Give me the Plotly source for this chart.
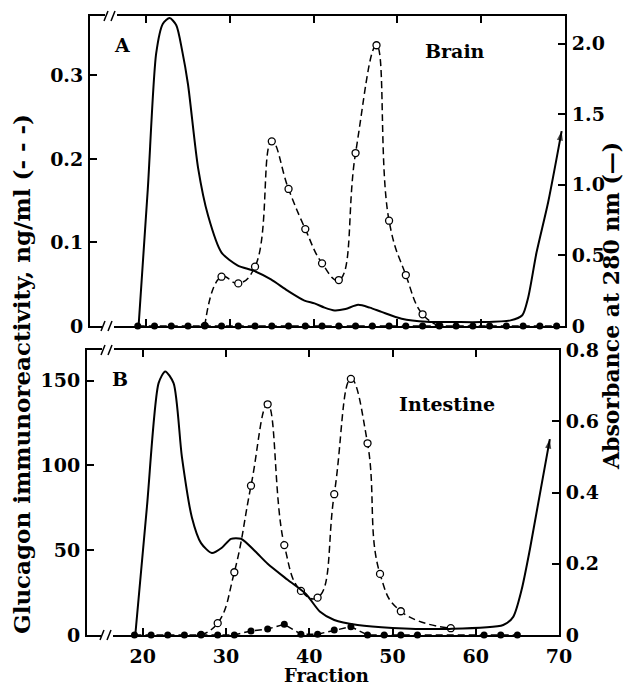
import plotly.graph_objects as go

# page body has an 8px margin, so the figure is sized to fill the 634x685 window
OFF = 8
W, H = 634 - OFF, 685 - OFF

# ---------------- Panel A: Brain ----------------
brain_dot_frac = [19, 21, 23, 25, 27, 29, 31, 33, 35, 37, 39, 41, 43, 45, 47, 49,
                  51, 53, 55, 57, 59, 61, 63, 65, 67, 69]
brain_dot_val = [0, 0, 0, 0, 0, 0, 0, 0, 0, 0, 0, 0, 0, 0, 0, 0,
                 0, 0, 0, 0, 0, 0, 0, 0, 0, 0]

brain_ir_frac = [27, 29, 31, 33, 35, 37, 39, 41, 43, 45, 47.5, 49, 51, 53, 55]
brain_ir_val = [0, 0.059, 0.051, 0.071, 0.221, 0.164, 0.116, 0.075, 0.055,
                0.207, 0.336, 0.126, 0.061, 0.014, 0]

brain_abs_frac = [19.1, 20.2, 21.2, 22.0, 22.8, 23.6, 24.3, 25.0, 26.2, 27.4, 29.0,
                  30.9, 32.9, 34.9, 36.9, 38.9, 40.1, 41.3, 42.5, 43.8, 45.3, 46.7,
                  48.1, 50.5, 53.5, 57.0, 60.0, 63.5, 64.9, 65.6, 66.6, 68.0, 69.6]
brain_abs_val = [0, 0.97, 1.93, 2.14, 2.18, 2.13, 1.95, 1.71, 1.12, 0.78, 0.52,
                 0.43, 0.39, 0.33, 0.25, 0.18, 0.16, 0.13, 0.11, 0.12, 0.15, 0.13,
                 0.10, 0.052, 0.03, 0.028, 0.028, 0.04, 0.076, 0.2, 0.52, 0.88, 1.38]

# ---------------- Panel B: Intestine ----------------
int_dot_frac = [19, 21, 23, 25, 27, 29, 31, 33, 35, 37, 39, 41, 43, 45, 47, 49,
                51, 53, 61, 63, 65]
int_dot_val = [0, 0, 0, 0, 0, 0, 0, 2.4, 3.5, 6.3, 0.5, 0.5, 2.9, 4.9, 0, 0,
               0, 0, 0, 0, 0]

int_ir_frac = [27, 29, 31, 33, 35, 37, 39, 41, 43, 45, 47, 48.5, 51, 57]
int_ir_val = [0, 7, 37, 88, 136, 53, 26, 22, 83, 151, 113, 36, 14, 4]

int_abs_frac = [19.1, 20.5, 21.9, 22.7, 23.7, 24.7, 25.9, 27.0, 28.3, 29.5, 30.6,
                31.8, 33.5, 35.0, 37.4, 39.6, 41.3, 43.0, 45.8, 50.0, 56.8, 63.3,
                64.5, 65.5, 66.5, 68.9]
int_abs_val = [0, 0.36, 0.707, 0.74, 0.707, 0.50, 0.33, 0.258, 0.23, 0.245, 0.27,
               0.27, 0.235, 0.20, 0.155, 0.115, 0.065, 0.042, 0.028, 0.02, 0.017, 0.028,
               0.051, 0.126, 0.24, 0.55]

# tick labels
x_ticks = [20, 30, 40, 50, 60, 70]
brain_left_ticks = [0, 0.1, 0.2, 0.3]
brain_left_text = ["0", "0.1", "0.2", "0.3"]
brain_right_ticks = [0, 0.5, 1.0, 1.5, 2.0]
brain_right_text = ["0", "0.5", "1.0", "1.5", "2.0"]
int_left_ticks = [0, 50, 100, 150]
int_left_text = ["0", "50", "100", "150"]
int_right_ticks = [0, 0.2, 0.4, 0.6, 0.8]
int_right_text = ["0", "0.2", "0.4", "0.6", "0.8"]

INK = "#000000"
FONT = "DejaVu Serif"


def px(x):
    return (x - OFF) / W


def py(y):
    return 1 - (y - OFF) / H


fig = go.Figure()

dash = "7px,4px"


def add_panel(xa, yl, yr, abs_f, abs_v, ir_f, ir_v, dot_f, dot_v):
    n = len(abs_f)
    fig.add_trace(go.Scatter(
        x=abs_f, y=abs_v, xaxis=xa, yaxis=yr, mode="lines+markers",
        line=dict(color=INK, width=2, shape="spline", smoothing=0.7),
        marker=dict(symbol="arrow", angleref="previous", color=INK,
                    size=[0] * (n - 1) + [10], line=dict(width=0)),
        showlegend=False, hoverinfo="skip"))
    fig.add_trace(go.Scatter(
        x=ir_f, y=ir_v, xaxis=xa, yaxis=yl, mode="lines+markers",
        line=dict(color=INK, width=1.5, dash=dash, shape="spline", smoothing=1.3),
        marker=dict(symbol="circle", size=7, color="white",
                    line=dict(color=INK, width=1.3)),
        showlegend=False, hoverinfo="skip"))
    fig.add_trace(go.Scatter(
        x=dot_f, y=dot_v, xaxis=xa, yaxis=yl, mode="lines+markers",
        line=dict(color=INK, width=1.5, dash=dash),
        marker=dict(symbol="circle", size=7, color=INK),
        showlegend=False, hoverinfo="skip", cliponaxis=False))


add_panel("x2", "y3", "y4", brain_abs_frac, brain_abs_val, brain_ir_frac,
          brain_ir_val, brain_dot_frac, brain_dot_val)
add_panel("x", "y", "y2", int_abs_frac, int_abs_val, int_ir_frac,
          int_ir_val, int_dot_frac, int_dot_val)

tickfont = dict(family=FONT, size=19, color=INK, weight="bold")
common_x = dict(range=[13.3, 70], showline=True, linewidth=2, linecolor=INK,
                mirror="ticks", ticks="inside", ticklen=7, tickwidth=1.5,
                tickcolor=INK, showgrid=False, zeroline=False, automargin=False,
                tickfont=tickfont)
common_y = dict(showline=True, linewidth=2, linecolor=INK, ticks="inside",
                ticklen=7, tickwidth=1.5, tickcolor=INK, showgrid=False,
                zeroline=False, automargin=False, tickfont=tickfont,
                ticklabelstandoff=1)

fig.update_layout(
    width=W, height=H, paper_bgcolor="white", plot_bgcolor="white",
    margin=dict(l=0, r=0, t=0, b=0),
    xaxis=dict(common_x, domain=[px(87), px(559)], anchor="y",
               tickvals=x_ticks, ticktext=[str(v) for v in x_ticks],
               ticklabelstandoff=3),
    xaxis2=dict(common_x, domain=[px(90), px(565)], anchor="y3",
                tickvals=x_ticks[:-1], showticklabels=False),
    yaxis=dict(common_y, domain=[py(635), py(350)], anchor="x", side="left",
               range=[0, 168], tickvals=int_left_ticks, ticktext=int_left_text),
    yaxis2=dict(common_y, domain=[py(635), py(350)], anchor="x", side="right",
                overlaying="y", range=[0, 0.8], tickvals=int_right_ticks,
                ticktext=int_right_text),
    yaxis3=dict(common_y, domain=[py(326), py(16)], anchor="x2", side="left",
                range=[0, 0.371], tickvals=brain_left_ticks,
                ticktext=brain_left_text),
    yaxis4=dict(common_y, domain=[py(326), py(16)], anchor="x2", side="right",
                overlaying="y3", range=[0, 2.195], tickvals=brain_right_ticks,
                ticktext=brain_right_text),
)

annotations = [
    dict(text="A", x=px(122), y=py(45), size=19),
    dict(text="B", x=px(120), y=py(379), size=19),
    dict(text="Brain", x=px(455), y=py(51), size=19),
    dict(text="Intestine", x=px(447), y=py(404), size=19),
    dict(text="Fraction", x=px(326), y=py(675), size=18),
    dict(text="Glucagon immunoreactivity, ng/ml (- - -)", x=px(22), y=py(374),
         size=23, textangle=-90),
    dict(text="Absorbance at 280 nm (—)", x=px(611), y=py(306), size=22,
         textangle=-90),
]
for a in annotations:
    size = a.pop("size")
    fig.add_annotation(xref="paper", yref="paper", showarrow=False,
                       font=dict(family=FONT, size=size, color=INK, weight="bold"),
                       xanchor="center", yanchor="middle", **a)

# axis-break marks ("//") on the x axes
breaks = [(111, 16), (108, 326), (108, 350), (107, 635)]
for cx, cy in breaks:
    fig.add_shape(type="rect", xref="paper", yref="paper",
                  x0=px(cx - 6), x1=px(cx + 6), y0=py(cy + 3), y1=py(cy - 3),
                  fillcolor="white", line=dict(width=0))
    for dx in (-5, 2):
        fig.add_shape(type="line", xref="paper", yref="paper",
                      x0=px(cx + dx - 2), y0=py(cy + 5),
                      x1=px(cx + dx + 2), y1=py(cy - 5),
                      line=dict(color=INK, width=1.5))

fig.write_html("out.html")
